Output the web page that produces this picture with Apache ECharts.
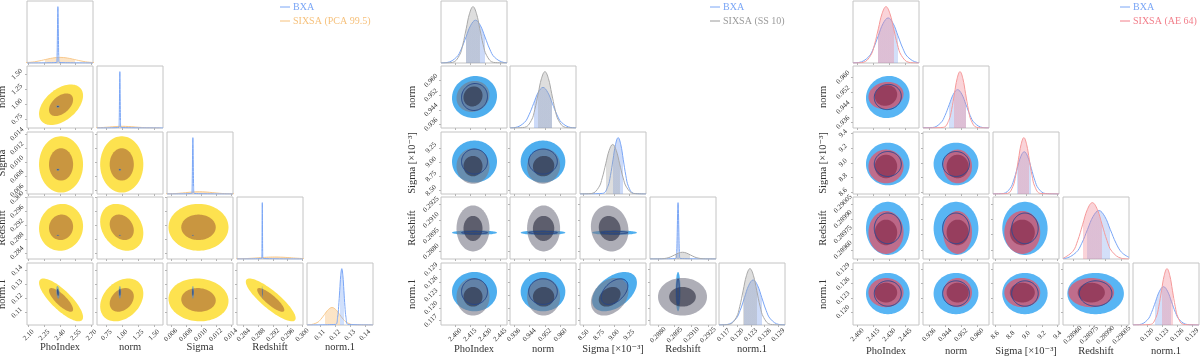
<!DOCTYPE html>
<html>
<head>
<meta charset="utf-8">
<title>Corner plots: BXA vs SIXSA</title>
<script src="https://cdn.jsdelivr.net/npm/echarts@6/dist/echarts.min.js"></script>
<style>
  html, body { margin: 0; padding: 0; background: #fff; }
  #chart { width: 1200px; height: 360px; }
</style>
</head>
<body>
<div id="chart"></div>
<script>
// parameter names
const paramNames = ["PhoIndex", "norm", "Sigma", "Redshift", "norm.1"];
const paramNamesScaled = ["PhoIndex", "norm", "Sigma [×10⁻³]", "Redshift", "norm.1"];

// ---- left panel: BXA vs SIXSA (PCA 99.5) ----
const leftMin = [2.085, 0.60, 0.0055, 0.2822, 0.1013];
const leftMax = [2.715, 1.64, 0.0143, 0.3002, 0.1453];
const leftTicks = [[2.10, 2.25, 2.40, 2.55, 2.70], [0.75, 1.00, 1.25, 1.50], [0.006, 0.008, 0.010, 0.012, 0.014], [0.284, 0.288, 0.292, 0.296, 0.300], [0.11, 0.12, 0.13, 0.14]];
const leftDigits = [2, 2, 3, 3, 2];

// contour centres, outer / inner half widths, correlations (10,20,21,30,31,32,40,41,42,43)
const leftSixsaCentre = [2.41, 0.99, 0.0097, 0.2914, 0.1191];
const leftSixsaOuter = [0.21, 0.34, 0.0040, 0.0068, 0.0152];
const leftSixsaInner = [0.115, 0.19, 0.0023, 0.0037, 0.0084];
const leftSixsaCorr = [0.45, 0.0, 0.0, 0.05, -0.25, 0.0, -0.8, 0.3, -0.05, -0.85];
const leftBxaCentre = [2.38, 0.96, 0.00895, 0.2891, 0.1245];
const leftBxaOuter = [0.016, 0.02, 0.00015, 0.00012, 0.0045];
const leftBxaInner = [0.008, 0.01, 0.00008, 0.00006, 0.0025];
const leftBxaCorr = [0, 0, 0, 0, 0, 0, -0.3, 0, 0, -0.5];

// marginal densities [value, density]
const leftBxaPdf = [
  [[2.085, 0], [2.368, 0.011], [2.372, 0.135], [2.374, 0.325], [2.376, 0.607], [2.378, 0.882], [2.38, 1], [2.382, 0.882], [2.384, 0.607], [2.386, 0.325], [2.388, 0.135], [2.392, 0.011], [2.715, 0]],
  [[0.60, 0], [0.945, 0.011], [0.95, 0.135], [0.9525, 0.325], [0.955, 0.607], [0.9575, 0.882], [0.96, 1], [0.9625, 0.882], [0.965, 0.607], [0.9675, 0.325], [0.97, 0.135], [0.975, 0.011], [1.64, 0]],
  [[0.0055, 0], [0.0088, 0.011], [0.00885, 0.135], [0.008875, 0.325], [0.0089, 0.607], [0.008925, 0.882], [0.00895, 1], [0.008975, 0.882], [0.009, 0.607], [0.009025, 0.325], [0.00905, 0.135], [0.0091, 0.011], [0.0143, 0]],
  [[0.2822, 0], [0.28895, 0.011], [0.289, 0.135], [0.289025, 0.325], [0.28905, 0.607], [0.289075, 0.882], [0.2891, 1], [0.289125, 0.882], [0.28915, 0.607], [0.289175, 0.325], [0.2892, 0.135], [0.28925, 0.011], [0.3002, 0]],
  [[0.1013, 0], [0.1203, 0.011], [0.1217, 0.135], [0.1224, 0.325], [0.1231, 0.607], [0.1238, 0.882], [0.1245, 1], [0.1252, 0.882], [0.1259, 0.607], [0.1266, 0.325], [0.1273, 0.135], [0.1287, 0.011], [0.1453, 0]]
];
const leftSixsaPdf = [
  [[1.98, 0.001], [2.12, 0.0135], [2.19, 0.0325], [2.26, 0.061], [2.33, 0.088], [2.40, 0.10], [2.47, 0.088], [2.54, 0.061], [2.61, 0.0325], [2.68, 0.0135], [2.82, 0.001]],
  [[0.40, 0.0003], [0.60, 0.004], [0.70, 0.0098], [0.80, 0.018], [0.90, 0.026], [1.00, 0.03], [1.10, 0.026], [1.20, 0.018], [1.30, 0.0098], [1.40, 0.004], [1.60, 0.0003]],
  [[0.0044, 0.0004], [0.0062, 0.0054], [0.0071, 0.013], [0.008, 0.0243], [0.0089, 0.0353], [0.0098, 0.04], [0.0107, 0.0353], [0.0116, 0.0243], [0.0125, 0.013], [0.0134, 0.0054], [0.0152, 0.0004]],
  [[0.279, 0.0004], [0.2835, 0.0047], [0.28575, 0.0114], [0.288, 0.0212], [0.29025, 0.0309], [0.2925, 0.035], [0.29475, 0.0309], [0.297, 0.0212], [0.29925, 0.0114], [0.3015, 0.0047], [0.306, 0.0004]],
  [[0.1013, 0.001], [0.103, 0.0034], [0.108, 0.0419], [0.1105, 0.1008], [0.113, 0.188], [0.1155, 0.273], [0.118, 0.31], [0.1205, 0.273], [0.123, 0.188], [0.1255, 0.1008], [0.128, 0.0419], [0.133, 0.0034], [0.1453, 0]]
];
const leftBxaBand = [[2.376, 2.384], [0.955, 0.965], [0.0089, 0.009], [0.28905, 0.28915], [0.1231, 0.1259]];
const leftSixsaBand = [[2.26, 2.54], [0.80, 1.20], [0.008, 0.0116], [0.288, 0.297], [0.113, 0.123]];

// ---- middle panel: BXA vs SIXSA (SS 10) ----
const midMin = [2.386, 0.934, 8.44, 0.28728, 0.1160];
const midMax = [2.452, 0.968, 9.53, 0.29321, 0.1305];
const midTicks = [[2.400, 2.415, 2.430, 2.445], [0.936, 0.944, 0.952, 0.960], [8.50, 8.75, 9.00, 9.25], [0.2880, 0.2895, 0.2910, 0.2925], [0.117, 0.120, 0.123, 0.126, 0.129]];
const midDigits = [3, 3, 2, 4, 3];

const midSixsaCentre = [2.418, 0.9513, 8.93, 0.2902, 0.1226];
const midSixsaOuter = [0.0165, 0.0085, 0.31, 0.0022, 0.0044];
const midSixsaInner = [0.0095, 0.0055, 0.18, 0.0012, 0.0023];
const midSixsaCorr = [0.1, 0, 0.05, 0, 0, -0.1, 0, 0, 0.3, 0];
const midBxaCentre = [2.4195, 0.951, 9.01, 0.2898, 0.1238];
const midBxaOuter = [0.0225, 0.0115, 0.37, 0.00022, 0.0046];
const midBxaInner = [0.013, 0.0074, 0.22, 0.00012, 0.0030];
const midBxaCorr = [0.05, 0, 0, 0, 0, 0, 0, 0, 0.45, 0];

const midSixsaPdf = [
  [[2.386, 0], [2.3976, 0.011], [2.4044, 0.135], [2.4078, 0.325], [2.4112, 0.607], [2.4146, 0.882], [2.418, 1], [2.4214, 0.882], [2.4248, 0.607], [2.4282, 0.325], [2.4316, 0.135], [2.4384, 0.011], [2.452, 0]],
  [[0.934, 0], [0.9415, 0.011], [0.945, 0.135], [0.94675, 0.325], [0.9485, 0.607], [0.95025, 0.882], [0.952, 1], [0.95375, 0.882], [0.9555, 0.607], [0.95725, 0.325], [0.959, 0.135], [0.9625, 0.011], [0.968, 0]],
  [[8.44, 0.001], [8.635, 0.0097], [8.75, 0.1188], [8.8075, 0.286], [8.865, 0.5342], [8.9225, 0.7762], [8.98, 0.88], [9.0375, 0.7762], [9.095, 0.5342], [9.1525, 0.286], [9.21, 0.1188], [9.325, 0.0097], [9.53, 0]],
  [[0.28728, 0], [0.2881, 0.0013], [0.2888, 0.0162], [0.28915, 0.039], [0.2895, 0.0728], [0.28985, 0.1058], [0.2902, 0.12], [0.29055, 0.1058], [0.2909, 0.0728], [0.29125, 0.039], [0.2916, 0.0162], [0.2923, 0.0013], [0.29321, 0]],
  [[0.116, 0], [0.1183, 0.011], [0.1198, 0.135], [0.12055, 0.325], [0.1213, 0.607], [0.12205, 0.882], [0.1228, 1], [0.12355, 0.882], [0.1243, 0.607], [0.12505, 0.325], [0.1258, 0.135], [0.1273, 0.011], [0.1305, 0]]
];
const midBxaPdf = [
  [[2.386, 0.002], [2.392, 0.0084], [2.4015, 0.1026], [2.40625, 0.247], [2.411, 0.4613], [2.41575, 0.6703], [2.4205, 0.76], [2.42525, 0.6703], [2.430, 0.4613], [2.43475, 0.247], [2.4395, 0.1026], [2.449, 0.0084], [2.452, 0.004]],
  [[0.934, 0.002], [0.9366, 0.0079], [0.9414, 0.0972], [0.9438, 0.234], [0.9462, 0.437], [0.9486, 0.635], [0.951, 0.72], [0.9534, 0.635], [0.9558, 0.437], [0.9582, 0.234], [0.9606, 0.0972], [0.9654, 0.0079], [0.968, 0.002]],
  [[8.44, 0], [8.815, 0.011], [8.9, 0.135], [8.9425, 0.325], [8.985, 0.607], [9.0275, 0.882], [9.07, 1], [9.1125, 0.882], [9.155, 0.607], [9.1975, 0.325], [9.24, 0.135], [9.325, 0.011], [9.53, 0]],
  [[0.28728, 0], [0.28962, 0.011], [0.28968, 0.135], [0.28971, 0.325], [0.28974, 0.607], [0.28977, 0.882], [0.2898, 1], [0.28983, 0.882], [0.28986, 0.607], [0.28989, 0.325], [0.28992, 0.135], [0.28998, 0.011], [0.29321, 0]],
  [[0.116, 0.002], [0.1178, 0.0088], [0.1197, 0.108], [0.12065, 0.26], [0.1216, 0.4856], [0.12255, 0.7056], [0.1235, 0.8], [0.12445, 0.7056], [0.1254, 0.4856], [0.12635, 0.26], [0.1273, 0.108], [0.1292, 0.0088], [0.1305, 0.003]]
];
const midSixsaBand = [[2.4112, 2.4248], [0.9485, 0.9555], [8.865, 9.095], [0.2895, 0.2909], [0.1213, 0.1243]];
const midBxaBand = [[2.411, 2.430], [0.9462, 0.9558], [8.985, 9.155], [0.28974, 0.28986], [0.1216, 0.1254]];

// ---- right panel: BXA vs SIXSA (AE 64) ----
const rightMin = [2.396, 0.933, 8.575, 0.28951, 0.1172];
const rightMax = [2.458, 0.966, 9.42, 0.290117, 0.1304];
const rightTicks = [[2.400, 2.415, 2.430, 2.445], [0.936, 0.944, 0.952, 0.960], [8.6, 8.8, 9.0, 9.2, 9.4], [0.28960, 0.28975, 0.28990, 0.29005], [0.120, 0.123, 0.126, 0.129]];
const rightDigits = [3, 3, 1, 5, 3];

const rightSixsaCentre = [2.427, 0.9503, 8.95, 0.28977, 0.1241];
const rightSixsaOuter = [0.0165, 0.0072, 0.23, 0.00021, 0.0031];
const rightSixsaInner = [0.0105, 0.0055, 0.16, 0.000125, 0.0021];
const rightSixsaCorr = [0.1, 0, 0, 0, 0, 0, 0, 0, 0, 0];
const rightBxaCentre = [2.4287, 0.9495, 8.984, 0.28981, 0.1239];
const rightBxaOuter = [0.0205, 0.0112, 0.29, 0.00026, 0.0044];
const rightBxaInner = [0.0127, 0.0067, 0.17, 0.00015, 0.0027];
const rightBxaCorr = [0.05, 0, 0, 0, 0, 0, 0, 0, 0, 0];

const rightSixsaPdf = [
  [[2.396, 0], [2.4054, 0.011], [2.4126, 0.135], [2.4162, 0.325], [2.4198, 0.607], [2.4234, 0.882], [2.427, 1], [2.4306, 0.882], [2.4342, 0.607], [2.4378, 0.325], [2.4414, 0.135], [2.4486, 0.011], [2.458, 0]],
  [[0.933, 0], [0.9431, 0.011], [0.9459, 0.135], [0.9473, 0.325], [0.9487, 0.607], [0.9501, 0.882], [0.9515, 1], [0.9529, 0.882], [0.9543, 0.607], [0.9557, 0.325], [0.9571, 0.135], [0.9599, 0.011], [0.966, 0]],
  [[8.575, 0], [8.76, 0.011], [8.83, 0.135], [8.865, 0.325], [8.9, 0.607], [8.935, 0.882], [8.97, 1], [9.005, 0.882], [9.04, 0.607], [9.075, 0.325], [9.11, 0.135], [9.18, 0.011], [9.42, 0]],
  [[0.28951, 0.011], [0.2896, 0.135], [0.289645, 0.325], [0.28969, 0.607], [0.289735, 0.882], [0.28978, 1], [0.289825, 0.882], [0.28987, 0.607], [0.289915, 0.325], [0.28996, 0.135], [0.29005, 0.011], [0.290117, 0.001]],
  [[0.1172, 0], [0.1207, 0.011], [0.1218, 0.135], [0.12235, 0.325], [0.1229, 0.607], [0.12345, 0.882], [0.124, 1], [0.12455, 0.882], [0.1251, 0.607], [0.12565, 0.325], [0.1262, 0.135], [0.1273, 0.011], [0.1304, 0]]
];
const rightBxaPdf = [
  [[2.396, 0.003], [2.4014, 0.0088], [2.4106, 0.108], [2.4152, 0.26], [2.4198, 0.4856], [2.4244, 0.7056], [2.429, 0.8], [2.4336, 0.7056], [2.4382, 0.4856], [2.4428, 0.26], [2.4474, 0.108], [2.4566, 0.0088], [2.458, 0.007]],
  [[0.933, 0.004], [0.9377, 0.0075], [0.9419, 0.0918], [0.944, 0.221], [0.9461, 0.4128], [0.9482, 0.5998], [0.9503, 0.68], [0.9524, 0.5998], [0.9545, 0.4128], [0.9566, 0.221], [0.9587, 0.0918], [0.9629, 0.0075], [0.966, 0.002]],
  [[8.575, 0.002], [8.705, 0.0083], [8.795, 0.1013], [8.84, 0.244], [8.885, 0.4553], [8.93, 0.6615], [8.975, 0.75], [9.02, 0.6615], [9.065, 0.4553], [9.11, 0.244], [9.155, 0.1013], [9.245, 0.0083], [9.42, 0]],
  [[0.28951, 0.008], [0.289525, 0.0095], [0.28963, 0.1161], [0.289683, 0.2795], [0.289735, 0.522], [0.289788, 0.7585], [0.28984, 0.86], [0.289893, 0.7585], [0.289945, 0.522], [0.289998, 0.2795], [0.29005, 0.1161], [0.290117, 0.03]],
  [[0.1172, 0.003], [0.1185, 0.0075], [0.1201, 0.0918], [0.1209, 0.221], [0.1217, 0.4128], [0.1225, 0.5998], [0.1233, 0.68], [0.1241, 0.5998], [0.1249, 0.4128], [0.1257, 0.221], [0.1265, 0.0918], [0.1281, 0.0075], [0.1304, 0]]
];
const rightSixsaBand = [[2.4198, 2.4342], [0.9487, 0.9543], [8.9, 9.04], [0.28969, 0.28987], [0.1229, 0.1251]];
const rightBxaBand = [[2.4198, 2.4382], [0.9461, 0.9545], [8.885, 9.065], [0.289735, 0.289945], [0.1217, 0.1249]];

// ---- layout ----
const serif = '"Liberation Serif", "DejaVu Serif", serif';
const rowTop = [1, 66, 132, 197, 263];
const cellW = 66, cellH = 62;

const panels = [
  {
    cols: [27, 97, 167, 237, 307], min: leftMin, max: leftMax, ticks: leftTicks, digits: leftDigits,
    names: paramNames, yNameGap: 19, xNameGap: 17,
    methods: [
      { centre: leftSixsaCentre, outer: leftSixsaOuter, inner: leftSixsaInner, corr: leftSixsaCorr,
        pdf: leftSixsaPdf, band: leftSixsaBand, outerFill: "#fde24f", innerFill: "#c99640", outline: null,
        line: "#f8c98d", fill: "rgba(248,196,130,0.45)" },
      { centre: leftBxaCentre, outer: leftBxaOuter, inner: leftBxaInner, corr: leftBxaCorr,
        pdf: leftBxaPdf, band: leftBxaBand, outerFill: "rgba(80,140,215,0.6)", innerFill: "#2b4d85", outline: null,
        line: "#7aa6f6", fill: "rgba(122,166,246,0.35)" }
    ],
    legend: { x: 280, items: [["BXA", "#7aa6f6"], ["SIXSA (PCA 99.5)", "#f6c17c"]] }
  },
  {
    cols: [441, 510, 580, 650, 719], min: midMin, max: midMax, ticks: midTicks, digits: midDigits,
    names: paramNamesScaled, yNameGap: 23, xNameGap: 19,
    methods: [
      { centre: midBxaCentre, outer: midBxaOuter, inner: midBxaInner, corr: midBxaCorr,
        pdf: midBxaPdf, band: midBxaBand, outerFill: "#4eaeee", innerFill: "rgba(45,95,175,0.35)", outline: "#27478a",
        line: "#7aa6f6", fill: "rgba(110,150,235,0.35)" },
      { centre: midSixsaCentre, outer: midSixsaOuter, inner: midSixsaInner, corr: midSixsaCorr,
        pdf: midSixsaPdf, band: midSixsaBand, outerFill: "rgba(120,120,135,0.6)", innerFill: "rgba(40,42,60,0.6)", outline: null,
        line: "#a9a9a9", fill: "rgba(160,160,160,0.35)" }
    ],
    legend: { x: 710, items: [["BXA", "#7aa6f6"], ["SIXSA (SS 10)", "#9a9a9a"]] }
  },
  {
    cols: [853, 923, 993, 1063, 1133], min: rightMin, max: rightMax, ticks: rightTicks, digits: rightDigits,
    names: paramNamesScaled, yNameGap: 24, xNameGap: 21,
    methods: [
      { centre: rightBxaCentre, outer: rightBxaOuter, inner: rightBxaInner, corr: rightBxaCorr,
        pdf: rightBxaPdf, band: rightBxaBand, outerFill: "#58b5f4", innerFill: "rgba(45,95,175,0.3)", outline: "#2c4a92",
        line: "#7aa6f6", fill: "rgba(110,150,235,0.3)" },
      { centre: rightSixsaCentre, outer: rightSixsaOuter, inner: rightSixsaInner, corr: rightSixsaCorr,
        pdf: rightSixsaPdf, band: rightSixsaBand, outerFill: "rgba(225,85,105,0.75)", innerFill: "rgba(120,30,60,0.55)", outline: null,
        line: "#f59a9a", fill: "rgba(240,130,145,0.35)" }
    ],
    legend: { x: 1120, items: [["BXA", "#7aa6f6"], ["SIXSA (AE 64)", "#f27e8a"]] }
  }
];

const grids = [], xAxes = [], yAxes = [], series = [], visualMaps = [], graphics = [];

function inRange(ticks, lo, hi) {
  return ticks.filter(t => t >= lo - 1e-12 && t <= hi + 1e-12);
}

function paramAxis(isX, gi, k, showLabels, cfg) {
  const ticks = inRange(cfg.ticks[k], cfg.min[k], cfg.max[k]);
  return {
    type: "value", gridIndex: gi, min: cfg.min[k], max: cfg.max[k],
    axisLine: { show: false },
    splitLine: { show: false },
    axisTick: { show: true, customValues: ticks, length: 2, lineStyle: { color: "#b5b5b5" } },
    axisLabel: {
      show: showLabels, customValues: ticks, formatter: v => v.toFixed(cfg.digits[k]),
      rotate: 45, fontSize: 7, fontFamily: serif, color: "#333",
      align: "center", verticalAlign: "middle", margin: 10
    },
    name: showLabels ? cfg.names[k] : "",
    nameLocation: "middle",
    nameGap: isX ? cfg.xNameGap : cfg.yNameGap,
    nameMoveOverlap: false,
    nameTextStyle: { fontFamily: serif, fontSize: 10.5, color: "#333" }
  };
}

function addCurve(gi, pts, band, lineColor, fillColor, z) {
  const idx = series.length;
  series.push({
    type: "line", xAxisIndex: gi, yAxisIndex: gi, data: pts, smooth: 0.4,
    symbol: "none", silent: true, z: z,
    lineStyle: { color: lineColor, width: 1 },
    areaStyle: { opacity: 1 }
  });
  visualMaps.push({
    type: "piecewise", show: false, dimension: 0, seriesIndex: idx,
    pieces: [{ gte: band[0], lte: band[1], color: fillColor }],
    outOfRange: { color: "rgba(0,0,0,0)" }
  });
}

function addContour(gi, levels, styles, z) {
  series.push({
    type: "custom", xAxisIndex: gi, yAxisIndex: gi, clip: true, silent: true, z: z,
    data: levels,
    encode: { x: 0, y: 1 },
    renderItem: (params, api) => {
      const cx = api.value(0), cy = api.value(1), hx = api.value(2), hy = api.value(3), r = api.value(4);
      const q = Math.sqrt(1 - r * r);
      const pts = [];
      for (let k = 0; k < 90; k++) {
        const t = k / 90 * 2 * Math.PI;
        pts.push(api.coord([cx + hx * Math.cos(t), cy + hy * (r * Math.cos(t) + q * Math.sin(t))]));
      }
      return { type: "polygon", shape: { points: pts }, style: styles[params.dataIndex] };
    }
  });
}

panels.forEach(cfg => {
  for (let i = 0; i < 5; i++) {
    for (let j = 0; j <= i; j++) {
      const gi = grids.length;
      grids.push({
        left: cfg.cols[j], top: rowTop[i], width: cellW, height: cellH,
        show: true, borderColor: "#c4c4c4", borderWidth: 1, backgroundColor: "transparent",
        containLabel: false, outerBoundsMode: "none"
      });
      xAxes.push(paramAxis(true, gi, j, i === 4, cfg));
      if (i === j) {
        yAxes.push({ type: "value", gridIndex: gi, min: 0, max: v => v.max * 1.1, show: false });
        cfg.methods.forEach((m, mi) => addCurve(gi, m.pdf[i], m.band[i], m.line, m.fill, 2 + mi));
      } else {
        yAxes.push(paramAxis(false, gi, i, j === 0, cfg));
        const c = i * (i - 1) / 2 + j;
        cfg.methods.forEach((m, mi) => {
          addContour(gi, [
            [m.centre[j], m.centre[i], m.outer[j], m.outer[i], m.corr[c]],
            [m.centre[j], m.centre[i], m.inner[j], m.inner[i], m.corr[c]]
          ], [
            { fill: m.outerFill },
            { fill: m.innerFill }
          ], 2 + mi);
        });
        cfg.methods.forEach(m => {
          if (!m.outline) return;
          addContour(gi, [[m.centre[j], m.centre[i], m.inner[j], m.inner[i], m.corr[c]]],
            [{ fill: "none", stroke: m.outline, lineWidth: 1 }], 6);
        });
      }
    }
  }
  cfg.legend.items.forEach((it, k) => {
    const y = 7 + k * 14;
    graphics.push({ type: "line", shape: { x1: cfg.legend.x, y1: y, x2: cfg.legend.x + 10, y2: y }, style: { stroke: it[1], lineWidth: 1 } });
    graphics.push({ type: "text", x: cfg.legend.x + 13, y: y, style: { text: it[0], fill: it[1], fontSize: 10, fontFamily: serif, verticalAlign: "middle" } });
  });
});

const chart = echarts.init(document.getElementById("chart"));
chart.setOption({
  animation: false,
  grid: grids,
  xAxis: xAxes,
  yAxis: yAxes,
  visualMap: visualMaps,
  series: series,
  graphic: graphics
});
</script>
</body>
</html>
